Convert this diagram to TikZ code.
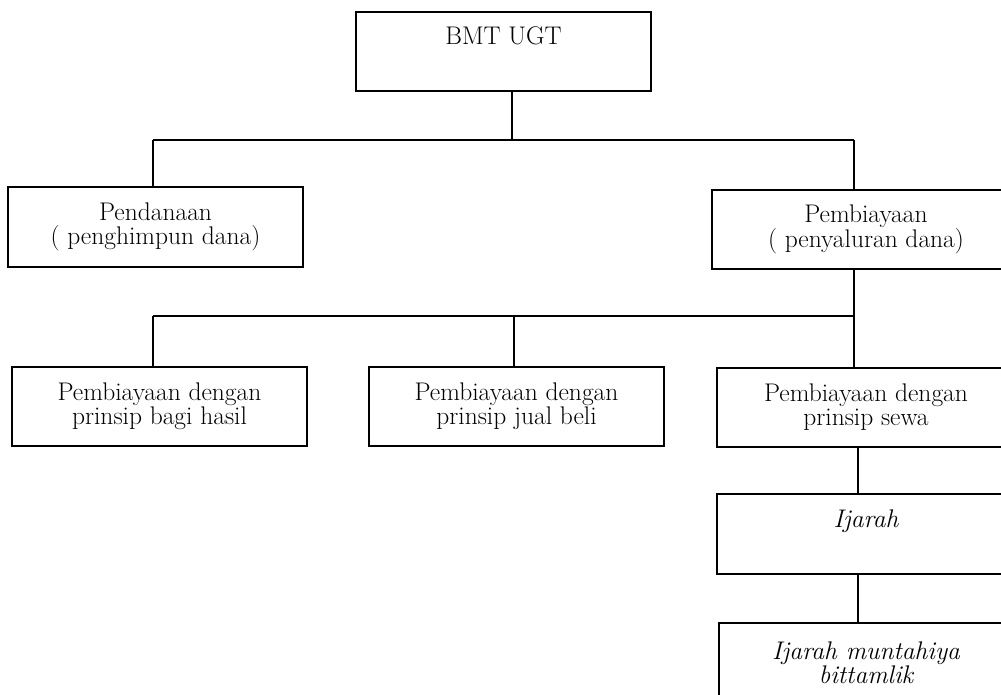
\documentclass[tikz,border=0pt]{standalone}
\usepackage{fontspec}
\begin{document}
\begin{tikzpicture}[x=1pt,y=-1pt,
  box/.style={draw, line width=1.5pt, inner sep=0pt, align=center,
    font=\fontsize{25.5}{24}\selectfont},
  itbox/.style={box, font=\fontsize{25.5}{24}\selectfont\itshape},
  conn/.style={line width=1.5pt}]
\useasboundingbox (0,0) rectangle (1001,695);
\clip (0,0) rectangle (1001,695);
% boxes
\node[box, minimum width=295pt, minimum height=79pt] (bmt) at (503.5,51.5) {BMT UGT\\\strut};
\node[box, minimum width=295pt, minimum height=80pt] (pend) at (155.5,227) {Pendanaan\\( penghimpun dana)};
\node[box, minimum width=308pt, minimum height=79pt] (pemb) at (866,229.5) {Pembiayaan\\( penyaluran dana)};
\node[box, minimum width=295pt, minimum height=79pt] (bagi) at (159.5,406.5) {Pembiayaan dengan\\prinsip bagi hasil};
\node[box, minimum width=295pt, minimum height=79pt] (jual) at (516.5,406.5) {Pembiayaan dengan\\prinsip jual beli};
\node[box, minimum width=298pt, minimum height=79pt] (sewa) at (866,407.5) {Pembiayaan dengan\\prinsip sewa};
\node[itbox, minimum width=298pt, minimum height=80pt] (ijr) at (866,534) {Ijarah\\\strut};
\node[itbox, minimum width=294pt, minimum height=80pt] (munt) at (866,663) {Ijarah muntahiya\\bittamlik};
% junctions
\coordinate (hA) at (512,140);
\coordinate (hL) at (153,140);
\coordinate (hR) at (854,140);
\coordinate (bL) at (153,316);
\coordinate (bM) at (514,316);
\coordinate (bR) at (854,316);
\coordinate (v3) at (858,470);
% connectors
\draw[conn] (bmt.south -| hA) -- (hA);
\draw[conn] (hL) -- (hR);
\draw[conn] (hL) -- (hL |- pend.north);
\draw[conn] (hR) -- (hR |- pemb.north);
\draw[conn] (pemb.south -| bR) -- (bR |- sewa.north);
\draw[conn] (bL) -- (bR);
\draw[conn] (bL) -- (bL |- bagi.north);
\draw[conn] (bM) -- (bM |- jual.north);
\draw[conn] (sewa.south -| v3) -- (v3 |- ijr.north);
\draw[conn] (ijr.south -| v3) -- (v3 |- munt.north);
\end{tikzpicture}
\end{document}
